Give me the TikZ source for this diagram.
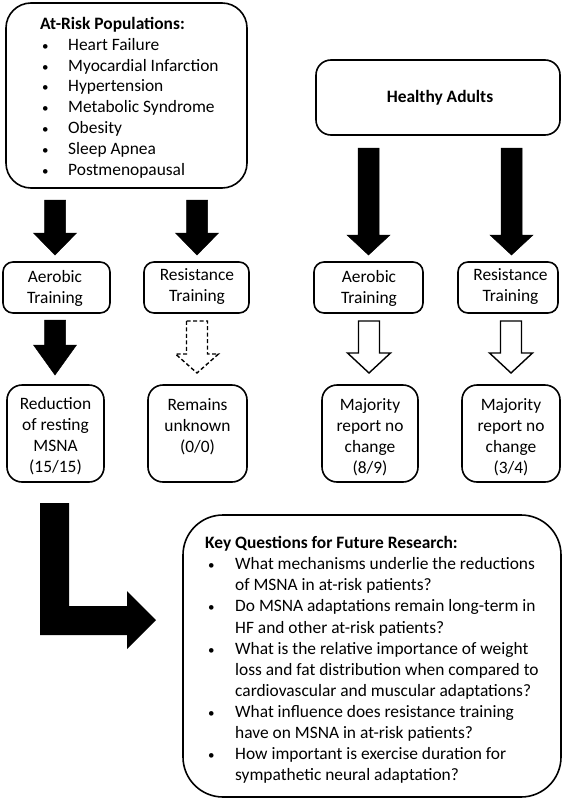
\documentclass[tikz,border=0pt]{standalone}
\usepackage{fontspec}
\setmainfont{Carlito}
\newcommand\barrowdown[5]{%
  \draw[#1] (#2-10.5,#3) -- (#2+10.5,#3) -- (#2+10.5,#4) -- (#2+21.5,#4)
    -- (#2,#5) -- (#2-21.5,#4) -- (#2-10.5,#4) -- cycle;}
\newcommand\bul{{\fontsize{13}{13}\selectfont\textbullet}}
\begin{document}
\begin{tikzpicture}[x=1pt,y=-1pt,
  box/.style={draw, line width=1.6pt, rounded corners=#1, inner sep=0pt},
  txt/.style={font=\fontsize{17.4}{21}\selectfont, align=center, inner sep=0pt},
  lst/.style={font=\fontsize{17.4}{20.8}\selectfont, align=left, inner sep=0pt, anchor=west},
  blk/.style={fill=black, draw=black, line width=0.5pt},
  wht/.style={fill=white, draw=black, line width=1.4pt, line join=miter},
  dsh/.style={fill=white, draw=black, line width=1.4pt, dash pattern=on 4pt off 2.5pt}]
\useasboundingbox[fill=white] (0,0) rectangle (565,800);

% boxes
\node[box=25pt, minimum width=241pt, minimum height=185pt] (pop) at (126.5,95.5) {};
\node[box=15pt, minimum width=244pt, minimum height=75pt] (hea) at (438,97.5) {};
\node[box=10pt, minimum width=107pt, minimum height=51pt] (at1) at (56.5,287.5) {};
\node[box=10pt, minimum width=105pt, minimum height=51pt] (rt1) at (196.5,287.5) {};
\node[box=10pt, minimum width=109pt, minimum height=51pt] (at2) at (368.5,287.5) {};
\node[box=10pt, minimum width=100pt, minimum height=51pt] (rt2) at (508,287.5) {};
\node[box=15pt, minimum width=97pt, minimum height=97pt] (red) at (55.5,433.5) {};
\node[box=15pt, minimum width=99pt, minimum height=97pt] (rem) at (197.5,433.5) {};
\node[box=15pt, minimum width=96pt, minimum height=97pt] (maj1) at (370,433.5) {};
\node[box=15pt, minimum width=98pt, minimum height=97pt] (maj2) at (511,433.5) {};
\node[box=40pt, minimum width=378pt, minimum height=282pt] (key) at (372,656) {};

% texts
\node[lst] (poptxt) at (40,97.5) {\textbf{At-Risk Populations:}\\
  \makebox[28pt][l]{\hspace*{2pt}\bul}Heart Failure\\
  \makebox[28pt][l]{\hspace*{2pt}\bul}Myocardial Infarction\\
  \makebox[28pt][l]{\hspace*{2pt}\bul}Hypertension\\
  \makebox[28pt][l]{\hspace*{2pt}\bul}Metabolic Syndrome\\
  \makebox[28pt][l]{\hspace*{2pt}\bul}Obesity\\
  \makebox[28pt][l]{\hspace*{2pt}\bul}Sleep Apnea\\
  \makebox[28pt][l]{\hspace*{2pt}\bul}Postmenopausal};
\node[txt, font=\fontsize{17.4}{21}\selectfont\bfseries] (heatxt) at (440,98) {Healthy Adults};
\node[txt] (at1txt) at (55,288) {Aerobic\\Training};
\node[txt] (rt1txt) at (197,287) {Resistance\\Training};
\node[txt] (at2txt) at (369,288) {Aerobic\\Training};
\node[txt] (rt2txt) at (510.5,287) {Resistance\\Training};
\node[txt] (redtxt) at (55.5,436) {Reduction\\of resting\\MSNA\\(15/15)};
\node[txt] (remtxt) at (197.5,426.5) {Remains\\unknown\\(0/0)};
\node[txt] (maj1txt) at (370,437) {Majority\\report no\\change\\(8/9)};
\node[txt] (maj2txt) at (511,437) {Majority\\report no\\change\\(3/4)};
\node[lst, font=\fontsize{17.4}{21.1}\selectfont] (keytxt) at (205,660) {\textbf{Key Questions for Future Research:}\\
  \makebox[30pt][l]{\hspace*{3pt}\bul}What mechanisms underlie the reductions\\
  \hspace*{30pt}of MSNA in at-risk patients?\\
  \makebox[30pt][l]{\hspace*{3pt}\bul}Do MSNA adaptations remain long-term in\\
  \hspace*{30pt}HF and other at-risk patients?\\
  \makebox[30pt][l]{\hspace*{3pt}\bul}What is the relative importance of weight\\
  \hspace*{30pt}loss and fat distribution when compared to\\
  \hspace*{30pt}cardiovascular and muscular adaptations?\\
  \makebox[30pt][l]{\hspace*{3pt}\bul}What influence does resistance training\\
  \hspace*{30pt}have on MSNA in at-risk patients?\\
  \makebox[30pt][l]{\hspace*{3pt}\bul}How important is exercise duration for\\
  \hspace*{30pt}sympathetic neural adaptation?};

% block arrows
\barrowdown{blk}{55}{200}{233}{255}
\barrowdown{blk}{197}{200}{233}{255}
\barrowdown{blk}{368.5}{148}{235}{255}
\barrowdown{blk}{511.5}{148}{235}{255}
\barrowdown{blk}{55}{320}{345}{375}
\barrowdown{dsh}{197}{321}{354}{373}
\barrowdown{wht}{369}{321}{353}{373}
\barrowdown{wht}{511}{321}{353}{373}

% L-shaped arrow to key questions
\fill[black] (40,503) -- (69,503) -- (69,606) -- (127,606) -- (127,591)
  -- (156,620) -- (127,649) -- (127,635) -- (40,635) -- cycle;
\end{tikzpicture}
\end{document}
